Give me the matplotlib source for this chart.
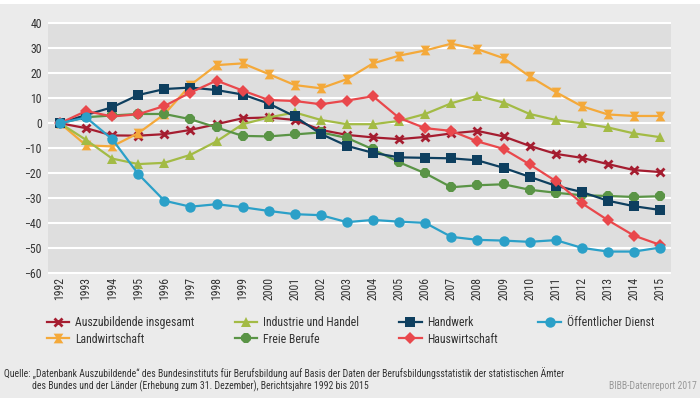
import matplotlib
matplotlib.use("Agg")
import matplotlib.pyplot as plt
from matplotlib.path import Path
from matplotlib.lines import Line2D
from matplotlib.patches import Rectangle

# schmale Schrift, falls vorhanden
plt.rcParams['font.family'] = ['Roboto Condensed', 'DejaVu Sans Condensed', 'Liberation Sans Narrow',
                               'Liberation Sans', 'DejaVu Sans']
plt.rcParams['font.stretch'] = 'condensed'

# Jahre und Veraenderung gegenueber 1992 in Prozent
jahre = list(range(1992, 2016))

auszubildende = [0, -2.0, -4.9, -5.0, -4.4, -2.7, -0.4, 2.0, 2.3, 1.3, -2.7, -4.7,
                 -5.7, -6.4, -5.5, -4.1, -3.1, -5.3, -9.1, -12.3, -13.9, -16.4, -18.8, -19.6]
industrie = [0, -6.7, -14.2, -16.4, -15.9, -12.7, -7.3, -0.4, 2.3, 4.3, 1.3, -0.4,
             -0.4, 0.9, 3.7, 8.0, 11.0, 8.3, 3.7, 1.3, 0.0, -1.7, -4.1, -5.6]
handwerk = [0, 3.3, 6.4, 11.3, 13.7, 14.3, 13.3, 11.5, 7.9, 2.7, -4.3, -9.1,
            -11.9, -13.7, -13.9, -14.1, -14.9, -17.9, -21.5, -25.1, -27.6, -31.1, -33.3, -34.8]
oeffentlich = [0, 2.3, -6.4, -20.4, -31.1, -33.5, -32.5, -33.7, -35.2, -36.5, -36.9, -39.7,
               -38.8, -39.5, -40.0, -45.6, -46.8, -47.1, -47.6, -46.9, -50.0, -51.5, -51.5, -49.9]
landwirtschaft = [0, -8.9, -9.3, -4.0, 3.6, 15.3, 23.3, 24.0, 19.7, 15.3, 14.0, 17.7,
                  24.0, 27.1, 29.2, 31.9, 29.7, 26.1, 18.8, 12.5, 6.8, 3.5, 2.9, 2.9]
freie = [0, 2.4, 3.1, 3.7, 3.7, 1.6, -1.7, -5.1, -5.3, -4.5, -3.7, -5.9,
         -10.5, -15.7, -20.1, -25.7, -24.9, -24.5, -26.7, -27.9, -28.9, -29.2, -29.6, -29.3]
hauswirtschaft = [0, 4.9, 2.7, 3.6, 6.9, 12.3, 17.1, 13.1, 9.3, 8.9, 7.6, 9.1,
                  10.8, 2.1, -2.0, -3.1, -7.3, -10.3, -16.5, -23.2, -32.1, -38.9, -45.1, -48.8]

# Sanduhr-Marker fuer Landwirtschaft
sanduhr = Path([(-1, 1), (1, 1), (0.35, 0), (1, -1), (-1, -1), (-0.35, 0), (-1, 1)],
               [Path.MOVETO] + [Path.LINETO] * 5 + [Path.CLOSEPOLY])

serien = [
    ("Auszubildende insgesamt", auszubildende, "#a51d30", "x", 6),
    ("Landwirtschaft", landwirtschaft, "#f4a93a", sanduhr, 7),
    ("Industrie und Handel", industrie, "#a3bb45", "^", 7),
    ("Freie Berufe", freie, "#5a9446", "8", 7.5),
    ("Handwerk", handwerk, "#0e3f5f", "s", 7),
    ("Hauswirtschaft", hauswirtschaft, "#e9484c", "D", 6),
    ("Öffentlicher Dienst", oeffentlich, "#2ba0c8", "o", 7.5),
]

fig = plt.figure(figsize=(7, 3.98), dpi=100, facecolor="#ebebeb")
fig.patches.append(Rectangle((0, 1 - 4 / 398), 1, 4 / 398, transform=fig.transFigure,
                             facecolor="white", edgecolor="none", zorder=0))

ax = fig.add_axes([48 / 700, 124 / 398, 623 / 700, 252 / 398])
ax.set_facecolor("#dedede")
for s in ax.spines.values():
    s.set_visible(False)

griffe = []
for name, werte, farbe, marker, ms in serien:
    mew = 2 if marker == "x" else 0
    ax.plot(jahre, werte, color=farbe, lw=1.6, marker=marker, markersize=ms,
            markeredgewidth=mew, markeredgecolor=farbe, zorder=3)
    griffe.append(Line2D([], [], color=farbe, lw=1.6, marker=marker, markersize=ms,
                         markeredgewidth=mew, markeredgecolor=farbe, label=name))

ax.set_xlim(1991.54, 2015.42)
ax.set_ylim(-60.5, 40.6)
ax.set_yticks(range(-60, 41, 10))
ax.set_xticks(jahre)
ax.set_xticklabels([str(j) for j in jahre], rotation=90)
ax.yaxis.grid(True, color="white", lw=1.5)
ax.set_axisbelow(True)
ax.tick_params(length=0, labelsize=8.5, colors="#333333")
ax.tick_params(axis="x", pad=2)
ax.tick_params(axis="y", pad=4.5)

fig.legend(handles=griffe, ncol=4, loc="upper left", bbox_to_anchor=(47 / 700, 1 - 316 / 398),
           frameon=False, fontsize=8.5, handlelength=1.9, handletextpad=0.5, borderpad=0,
           borderaxespad=0, columnspacing=3.4, labelspacing=0.3, labelcolor="#333333")

fig.text(4 / 700, 1 - 373 / 398,
         "Quelle: „Datenbank Auszubildende“ des Bundesinstituts für Berufsbildung auf Basis der Daten "
         "der Berufsbildungsstatistik der statistischen Ämter",
         fontsize=7, color="#333333", va="center")
fig.text(32 / 700, 1 - 386 / 398,
         "des Bundes und der Länder (Erhebung zum 31. Dezember), Berichtsjahre 1992 bis 2015",
         fontsize=7, color="#333333", va="center")
fig.text(697 / 700, 1 - 386 / 398, "BIBB-Datenreport 2017", fontsize=7, color="#999999",
         va="center", ha="right")

fig.savefig("out.png", dpi=100, facecolor=fig.get_facecolor())
